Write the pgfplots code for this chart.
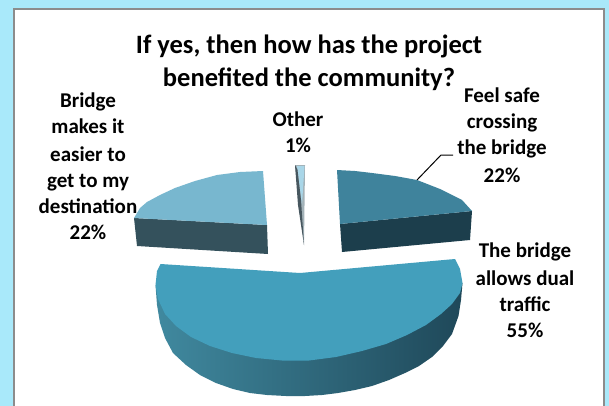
\documentclass[border=0pt]{standalone}
\usepackage{pgfplots}
\pgfplotsset{compat=1.18}
\usepackage{fontspec}
\setmainfont{Carlito}

\definecolor{pagebg}{HTML}{A9E9FA}
\definecolor{frame}{HTML}{8C8C8C}
\definecolor{maintop}{HTML}{439FBC}
\definecolor{sideL}{HTML}{40899F}
\definecolor{sideM}{HTML}{2C6276}
\definecolor{sideR}{HTML}{1F4859}
\definecolor{lefttop}{HTML}{78B7CF}
\definecolor{leftside}{HTML}{34515C}
\definecolor{righttop}{HTML}{3F839C}
\definecolor{rightside}{HTML}{1C3E4C}
\definecolor{othertop}{HTML}{A9D6E8}
\definecolor{otherside}{HTML}{47575F}
\definecolor{otherpale}{HTML}{A3B2B8}

\tikzset{
	lbl/.style={font=\bfseries\fontsize{21}{21}\selectfont, anchor=base, text=black, inner sep=0pt},
	ttl/.style={font=\bfseries\fontsize{26.5}{26.5}\selectfont, anchor=base, text=black, inner sep=0pt},
}

\begin{document}
\begin{tikzpicture}
\begin{axis}[
	scale only axis,
	width=609pt, height=406pt,
	xmin=0, xmax=609, ymin=0, ymax=406,
	y dir=reverse,
	axis lines=none,
	clip=true,
]
% page background and white panel
\addplot[draw=none, fill=pagebg] coordinates {(0,0) (609,0) (609,406) (0,406)} --cycle;
\addplot[draw=none, fill=frame] coordinates {(13,8) (605,8) (605,406) (13,406)} --cycle;
\addplot[draw=none, fill=white] coordinates {(15,10) (603,10) (603,406) (15,406)} --cycle;

% 55% slice, side wall
\addplot[draw=none, left color=sideL, middle color=sideM, right color=sideR] coordinates {
	(462.5,283) (461,300) (458.5,316) (452,334) (443,346) (432,357) (419,366) (405,373)
	(389,380) (372,386) (355,390) (338,393) (322,395) (305,396) (286,396) (267,395)
	(250,393) (233,389) (216,383) (200,375) (186,365) (173,353) (165,338) (160,323)
	(157,305) (155.5,285)
} --cycle;
% 55% slice, top
\addplot[draw=none, fill=maintop] coordinates {
	(300,273) (455,259) (460,269) (462.5,283) (460,293) (452,304) (441,314) (426,325)
	(407,335) (386,344) (362,351) (336,357) (309,360.5) (282,360.5) (256,358) (232,353)
	(210,346) (191,337) (176,326) (165,314) (158,299) (155.5,285) (157,271) (160.5,264)
} --cycle;

% 22% left slice
\addplot[draw=none, fill=leftside] coordinates {(134,218) (267,225) (268,254) (137,246)} --cycle;
\addplot[draw=none, fill=lefttop] coordinates {
	(134,218) (140,208) (147,202) (160,195) (175,188) (195,181) (217,175) (240,172)
	(263,171) (267,225)
} --cycle;

% 22% right slice
\addplot[draw=none, fill=rightside] coordinates {(340,224) (472,211) (470,240) (342,252)} --cycle;
\addplot[draw=none, fill=righttop] coordinates {
	(337,170) (355,171) (372,173) (395,176) (417,180) (440,189) (462,200) (472,211) (340,224)
} --cycle;

% 1% sliver
\addplot[draw=none, fill=otherpale] coordinates {(295,165) (305,165) (304,245)} --cycle;
\addplot[draw=none, fill=othertop] coordinates {(297,166) (304.5,166) (302,205)} --cycle;
\addplot[draw=none, fill=otherside] coordinates {(295,165) (297.5,170) (301,200) (304,245) (298,205)} --cycle;

% leader line
\addplot[black, line width=1pt] coordinates {(417,180) (441,155) (453,155)};

% title
\node[ttl] at (axis cs:309,54) {If yes, then how has the project};
\node[ttl] at (axis cs:309,87) {benefited the community?};

% labels
\node[lbl] at (axis cs:88,108) {Bridge};
\node[lbl] at (axis cs:88,134) {makes it};
\node[lbl] at (axis cs:88,161) {easier to};
\node[lbl] at (axis cs:88,187) {get to my};
\node[lbl] at (axis cs:88,213) {destination};
\node[lbl] at (axis cs:88,239) {22\%};
\node[lbl] at (axis cs:298,127) {Other};
\node[lbl] at (axis cs:298,153) {1\%};
\node[lbl] at (axis cs:502,103) {Feel safe};
\node[lbl] at (axis cs:502,129) {crossing};
\node[lbl] at (axis cs:502,154) {the bridge};
\node[lbl] at (axis cs:502,182) {22\%};
\node[lbl] at (axis cs:525,257) {The bridge};
\node[lbl] at (axis cs:525,285) {allows dual};
\node[lbl] at (axis cs:525,311) {traffic};
\node[lbl] at (axis cs:525,337) {55\%};
\end{axis}
\end{tikzpicture}
\end{document}
